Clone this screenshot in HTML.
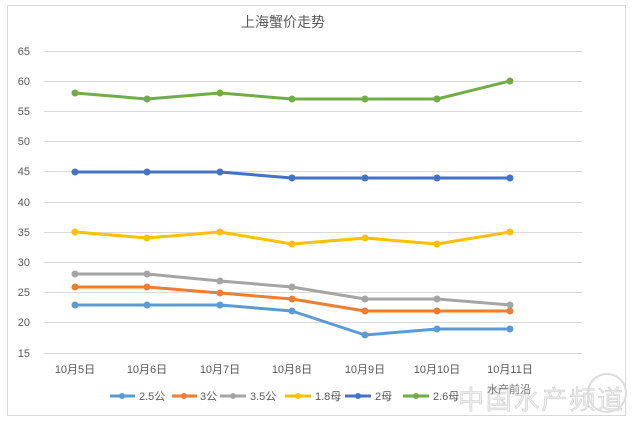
<!DOCTYPE html>
<html><head><meta charset="utf-8"><style>
body{margin:0;background:#fff;}
text{font-family:"Liberation Sans","Noto Sans CJK SC",sans-serif;}
</style></head><body>
<svg width="635" height="427" xmlns="http://www.w3.org/2000/svg">
<rect x="7.5" y="5.5" width="618" height="410" fill="#fff" stroke="#d9d9d9"/>
<text x="283" y="27" font-size="14" fill="#595959" text-anchor="middle">上海蟹价走势</text>
<g stroke="#d9d9d9" stroke-width="1">
<line x1="44" x2="582" y1="51.5" y2="51.5"/>
<line x1="44" x2="582" y1="81.5" y2="81.5"/>
<line x1="44" x2="582" y1="111.5" y2="111.5"/>
<line x1="44" x2="582" y1="141.5" y2="141.5"/>
<line x1="44" x2="582" y1="171.5" y2="171.5"/>
<line x1="44" x2="582" y1="202.5" y2="202.5"/>
<line x1="44" x2="582" y1="232.5" y2="232.5"/>
<line x1="44" x2="582" y1="262.5" y2="262.5"/>
<line x1="44" x2="582" y1="292.5" y2="292.5"/>
<line x1="44" x2="582" y1="322.5" y2="322.5"/>
<line x1="44" x2="582" y1="353.5" y2="353.5"/>
</g>
<g font-size="11" fill="#595959" text-anchor="end">
<text x="30" y="55">65</text><text x="30" y="85">60</text><text x="30" y="115">55</text>
<text x="30" y="145">50</text><text x="30" y="175">45</text><text x="30" y="206">40</text>
<text x="30" y="236">35</text><text x="30" y="266">30</text><text x="30" y="296">25</text>
<text x="30" y="326">20</text><text x="30" y="357">15</text>
</g>
<g font-size="11" fill="#595959" text-anchor="middle">
<text x="75" y="373">10月5日</text><text x="147" y="373">10月6日</text><text x="220" y="373">10月7日</text>
<text x="292" y="373">10月8日</text><text x="365" y="373">10月9日</text><text x="437" y="373">10月10日</text><text x="510" y="373">10月11日</text>
</g>
<g fill="none" stroke-width="3" stroke-linejoin="round">
<polyline stroke="#5b9bd5" points="75,305 147,305 220,305 292,311 365,335 437,329 510,329"/>
<polyline stroke="#ed7d31" points="75,287 147,287 220,293 292,299 365,311 437,311 510,311"/>
<polyline stroke="#a5a5a5" points="75,274 147,274 220,281 292,287 365,299 437,299 510,305"/>
<polyline stroke="#ffc000" points="75,232 147,238 220,232 292,244 365,238 437,244 510,232"/>
<polyline stroke="#4472c4" points="75,172 147,172 220,172 292,178 365,178 437,178 510,178"/>
<polyline stroke="#70ad47" points="75,93 147,99 220,93 292,99 365,99 437,99 510,81"/>
</g>
<g>
<g fill="#5b9bd5"><circle cx="75" cy="305" r="3.5"/><circle cx="147" cy="305" r="3.5"/><circle cx="220" cy="305" r="3.5"/><circle cx="292" cy="311" r="3.5"/><circle cx="365" cy="335" r="3.5"/><circle cx="437" cy="329" r="3.5"/><circle cx="510" cy="329" r="3.5"/></g>
<g fill="#ed7d31"><circle cx="75" cy="287" r="3.5"/><circle cx="147" cy="287" r="3.5"/><circle cx="220" cy="293" r="3.5"/><circle cx="292" cy="299" r="3.5"/><circle cx="365" cy="311" r="3.5"/><circle cx="437" cy="311" r="3.5"/><circle cx="510" cy="311" r="3.5"/></g>
<g fill="#a5a5a5"><circle cx="75" cy="274" r="3.5"/><circle cx="147" cy="274" r="3.5"/><circle cx="220" cy="281" r="3.5"/><circle cx="292" cy="287" r="3.5"/><circle cx="365" cy="299" r="3.5"/><circle cx="437" cy="299" r="3.5"/><circle cx="510" cy="305" r="3.5"/></g>
<g fill="#ffc000"><circle cx="75" cy="232" r="3.5"/><circle cx="147" cy="238" r="3.5"/><circle cx="220" cy="232" r="3.5"/><circle cx="292" cy="244" r="3.5"/><circle cx="365" cy="238" r="3.5"/><circle cx="437" cy="244" r="3.5"/><circle cx="510" cy="232" r="3.5"/></g>
<g fill="#4472c4"><circle cx="75" cy="172" r="3.5"/><circle cx="147" cy="172" r="3.5"/><circle cx="220" cy="172" r="3.5"/><circle cx="292" cy="178" r="3.5"/><circle cx="365" cy="178" r="3.5"/><circle cx="437" cy="178" r="3.5"/><circle cx="510" cy="178" r="3.5"/></g>
<g fill="#70ad47"><circle cx="75" cy="93" r="3.5"/><circle cx="147" cy="99" r="3.5"/><circle cx="220" cy="93" r="3.5"/><circle cx="292" cy="99" r="3.5"/><circle cx="365" cy="99" r="3.5"/><circle cx="437" cy="99" r="3.5"/><circle cx="510" cy="81" r="3.5"/></g>
</g>
<g stroke-width="3">
<line x1="110" x2="135" y1="396" y2="396" stroke="#5b9bd5"/><circle cx="122" cy="396" r="3" fill="#5b9bd5"/>
<line x1="172" x2="197" y1="396" y2="396" stroke="#ed7d31"/><circle cx="184" cy="396" r="3" fill="#ed7d31"/>
<line x1="220" x2="246" y1="396" y2="396" stroke="#a5a5a5"/><circle cx="233" cy="396" r="3" fill="#a5a5a5"/>
<line x1="285" x2="311" y1="396" y2="396" stroke="#ffc000"/><circle cx="298" cy="396" r="3" fill="#ffc000"/>
<line x1="345" x2="371" y1="396" y2="396" stroke="#4472c4"/><circle cx="358" cy="396" r="3" fill="#4472c4"/>
<line x1="403" x2="429" y1="396" y2="396" stroke="#70ad47"/><circle cx="416" cy="396" r="3" fill="#70ad47"/>
</g>
<g font-size="11" fill="#595959">
<text x="139" y="400">2.5公</text><text x="200" y="400">3公</text><text x="250" y="400">3.5公</text>
<text x="315" y="400">1.8母</text><text x="375" y="400">2母</text><text x="433" y="400">2.6母</text>
</g>
<text x="458" y="409" font-size="26" fill="#eeeeee" stroke="#c8c8c8" stroke-width="0.5" textLength="165">中国水产频道</text>
<text x="487" y="393" font-size="11" fill="#777">水产前沿</text>
<circle cx="607" cy="393" r="19" fill="none" stroke="#ddd" stroke-width="2"/>
</svg>
</body></html>
